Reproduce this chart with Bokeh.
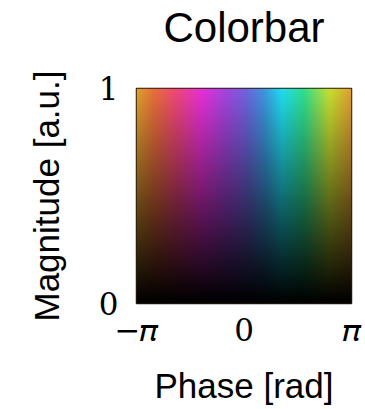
import numpy as np
from bokeh.plotting import figure
from bokeh.models import Range1d, FixedTicker, LinearAxis
from bokeh.embed import file_html
from bokeh.resources import INLINE

# Tick positions / labels
phase_ticks = [-np.pi, 0.0, np.pi]
phase_labels = ["−𝜋", "0", "𝜋"]
mag_ticks = [0, 1]
mag_labels = ["0", "1"]
title_text = "Colorbar"

# Hue anchors read along the top (magnitude = 1) row, as fraction of the phase span
hue_pos = [0.00, 0.08, 0.18, 0.30, 0.42, 0.52, 0.60, 0.68, 0.78, 0.90, 1.00]
hue_col = ["#e0a030", "#e8703a", "#f04878", "#e830d8", "#a048e0", "#6c68e0",
           "#3c9ae0", "#20def0", "#30e090", "#c8e030", "#e0a030"]

N = 216
def hex2rgb(h):
    return [int(h[i:i + 2], 16) for i in (1, 3, 5)]
rgb = np.array([hex2rgb(c) for c in hue_col], dtype=float)
xs = np.linspace(0, 1, N)
row = np.stack([np.interp(xs, hue_pos, rgb[:, k]) for k in range(3)], axis=1)
mag = np.linspace(0, 1, N)[:, None, None]
img = (row[None, :, :] * mag).astype(np.uint8)
rgba = np.zeros((N, N), dtype=np.uint32)
view = rgba.view(dtype=np.uint8).reshape((N, N, 4))
view[:, :, 0] = img[:, :, 0]
view[:, :, 1] = img[:, :, 1]
view[:, :, 2] = img[:, :, 2]
view[:, :, 3] = 255

p = figure(width=362, height=409, output_backend="svg", toolbar_location=None,
           x_range=Range1d(-np.pi, np.pi), y_range=Range1d(0, 1),
           min_border_left=136, min_border_right=11, min_border_top=88, min_border_bottom=106)
p.image_rgba(image=[rgba], x=-np.pi, y=0, dw=2 * np.pi, dh=1)

p.grid.visible = False
p.outline_line_color = "#2a1a08"
p.outline_line_width = 1.5
p.background_fill_color = "white"
p.border_fill_color = "white"

bx = p.below[0]
ly = p.left[0]

# Title drawn as the label of an empty axis above the frame
top = LinearAxis(ticker=FixedTicker(ticks=[]), axis_label=title_text)
top.axis_line_color = None
top.major_tick_line_color = None
top.minor_tick_line_color = None
top.major_tick_out = 0
top.major_tick_in = 0
top.minor_tick_out = 0
top.minor_tick_in = 0
top.major_label_standoff = 0
top.axis_label_standoff = 38
top.axis_label_text_font = "Liberation Sans"
top.axis_label_text_font_size = "42px"
top.axis_label_text_font_style = "normal"
top.axis_label_text_color = "black"
p.add_layout(top, "above")

for ax in (bx, ly):
    ax.axis_line_color = None
    ax.major_tick_line_color = None
    ax.minor_tick_line_color = None
    ax.major_tick_out = 0
    ax.major_tick_in = 0
    ax.minor_tick_out = 0
    ax.minor_tick_in = 0
    ax.major_label_text_font = "DejaVu Serif"
    ax.major_label_text_font_size = "31px"
    ax.major_label_text_color = "black"
    ax.axis_label_text_font = "Liberation Sans"
    ax.axis_label_text_font_size = "35px"
    ax.axis_label_text_font_style = "normal"
    ax.axis_label_text_color = "black"

bx.ticker = FixedTicker(ticks=phase_ticks)
bx.major_label_overrides = {t: l for t, l in zip(phase_ticks, phase_labels)}
ly.ticker = FixedTicker(ticks=mag_ticks)
ly.major_label_overrides = {t: l for t, l in zip(mag_ticks, mag_labels)}
bx.axis_label = "Phase [rad]"
ly.axis_label = "Magnitude [a.u.]"
ly.major_label_orientation = "horizontal"
bx.major_label_standoff = 8
ly.major_label_standoff = 18
bx.axis_label_standoff = 15
ly.axis_label_standoff = 30

open("out.html", "w").write(file_html(p, INLINE))
